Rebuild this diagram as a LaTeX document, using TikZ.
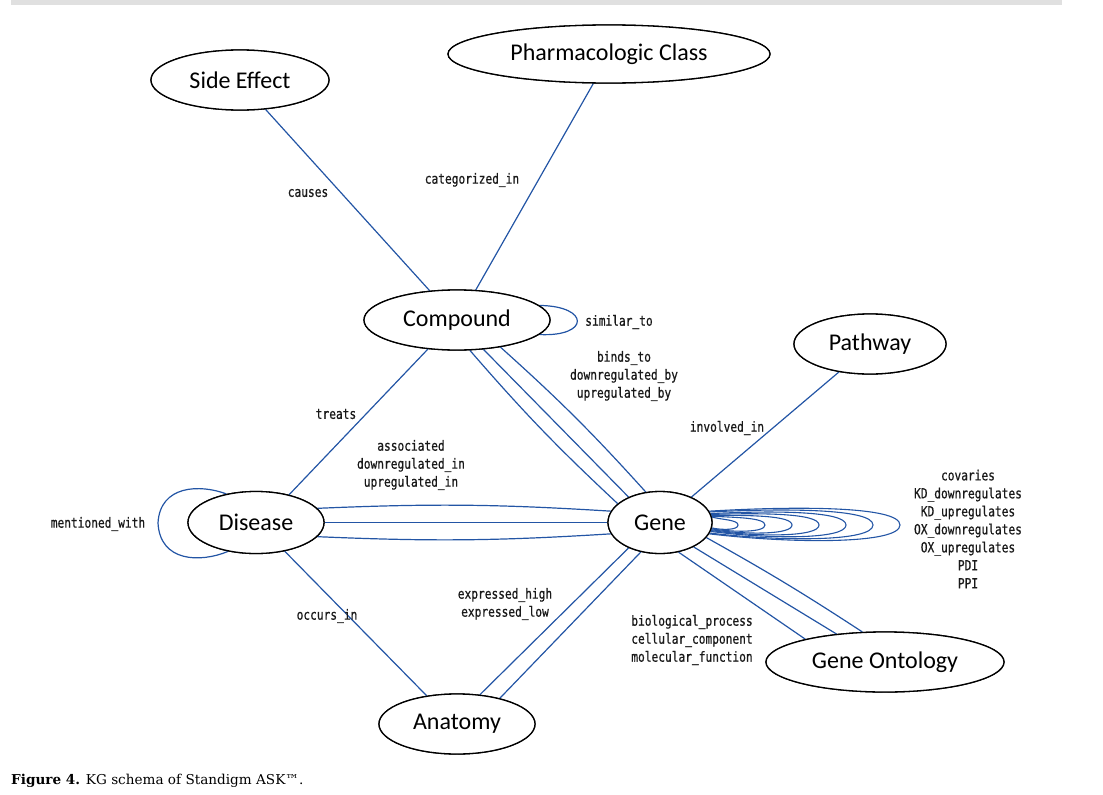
\documentclass[tikz,border=0pt]{standalone}
\usepackage{fontspec}
\setmainfont{Carlito}
\newfontfamily\lblfont[FakeStretch=0.8,FakeBold=0.6]{DejaVu Sans Mono}
\newfontfamily\capfont{DejaVu Serif}
\usetikzlibrary{shapes.geometric}
\definecolor{edgeblue}{RGB}{35,85,165}
\definecolor{barg}{RGB}{224,224,224}
\tikzset{
  ent/.style={draw=black, line width=1.3pt, ellipse, inner sep=0pt, fill=white, font=\fontsize{24}{28}\selectfont},
  rel/.style={draw=edgeblue, line width=1.2pt},
  lbl/.style={font=\lblfont\fontsize{14}{18}\selectfont, align=center, inner sep=0pt, text=black!90},
}
\begin{document}
\begin{tikzpicture}[x=1pt,y=-1pt]
\useasboundingbox (0,0) rectangle (1103,795);
\fill[barg] (11,0) rectangle (1062,5);

% nodes (placed first so that their anchors can be used)
\node[ent, minimum width=178pt, minimum height=60pt] (se) at (240,80) {Side Effect};
\node[ent, minimum width=322pt, minimum height=58pt] (pc) at (609,54) {Pharmacologic Class};
\node[ent, minimum width=186pt, minimum height=60pt] (comp) at (457,320) {Compound};
\node[ent, minimum width=152pt, minimum height=60pt] (pw) at (870,344) {Pathway};
\node[ent, minimum width=136pt, minimum height=62pt] (dis) at (256,522.5) {Disease};
\node[ent, minimum width=104pt, minimum height=62pt] (gene) at (660,522.5) {Gene};
\node[ent, minimum width=238pt, minimum height=60pt] (go) at (885,662) {Gene Ontology};
\node[ent, minimum width=156pt, minimum height=60pt] (anat) at (457,724) {Anatomy};

% edges
\draw[rel] (se.-49) -- (comp.133);
\draw[rel] (pc.-118) -- (comp.58);
\draw[rel] (comp.10) .. controls (590,306) and (590,337) .. (comp.-10);
\draw[rel] (comp.-67) to[bend right=3] (gene.156);
\draw[rel] (comp.-48) -- (gene.141);
\draw[rel] (comp.-32) to[bend left=3] (gene.115);
\draw[rel] (comp.-135) -- (dis.40);
\draw[rel] (dis.136) .. controls (200,484) and (160,485) .. (158,523) .. controls (160,562) and (200,563) .. (dis.226);
\draw[rel] (dis.13) to[bend left=3] (gene.167);
\draw[rel] (dis.0) -- (gene.180);
\draw[rel] (dis.-13) to[bend right=3] (gene.-167);
\draw[rel] (dis.-45) -- (anat.137);
\draw[rel] (gene.219) -- (anat.52);
\draw[rel] (gene.237) -- (anat.31);
\draw[rel] (gene.39) -- (pw.-138);
\draw[rel] (gene.-58) -- (go.164);
\draw[rel] (gene.-36) -- (go.150);
\draw[rel] (gene.-18) to[bend left=2] (go.127);
\foreach \k in {1,...,7}{
  \pgfmathsetmacro{\X}{738+27*(\k-1)}
  \pgfmathsetmacro{\h}{2.5+2*\k}
  \pgfmathsetmacro{\a}{5+1.2*\k}
  \pgfmathsetmacro{\cx}{710+0.45*(\X-710)}
  \pgfmathsetmacro{\top}{525-1.15*\h}
  \pgfmathsetmacro{\bot}{525+1.15*\h}
  \draw[draw=edgeblue, line width=1.1pt] (gene.\a) .. controls (\cx,\top) and (\X,\top) .. (\X,525) .. controls (\X,\bot) and (\cx,\bot) .. (gene.-\a);
}

% nodes redrawn on top of the connector ends
\node[ent, minimum width=178pt, minimum height=60pt] at (se) {Side Effect};
\node[ent, minimum width=322pt, minimum height=58pt] at (pc) {Pharmacologic Class};
\node[ent, minimum width=186pt, minimum height=60pt] at (comp) {Compound};
\node[ent, minimum width=152pt, minimum height=60pt] at (pw) {Pathway};
\node[ent, minimum width=136pt, minimum height=62pt] at (dis) {Disease};
\node[ent, minimum width=104pt, minimum height=62pt] at (gene) {Gene};
\node[ent, minimum width=238pt, minimum height=60pt] at (go) {Gene Ontology};
\node[ent, minimum width=156pt, minimum height=60pt] at (anat) {Anatomy};

% labels
\node[lbl] (l1) at (308,193) {causes};
\node[lbl] (l2) at (472,180) {categorized\_in};
\node[lbl] (l3) at (619,322) {similar\_to};
\node[lbl] (l4) at (624,376) {binds\_to\\downregulated\_by\\upregulated\_by};
\node[lbl] (l5) at (336,414) {treats};
\node[lbl] (l6) at (411,465) {associated\\downregulated\_in\\upregulated\_in};
\node[lbl] (l7) at (727,428) {involved\_in};
\node[lbl] (l8) at (98,524) {mentioned\_with};
\node[lbl] (l9) at (968,529) {covaries\\KD\_downregulates\\KD\_upregulates\\OX\_downregulates\\OX\_upregulates\\PDI\\PPI};
\node[lbl] (l10) at (505,604) {expressed\_high\\expressed\_low};
\node[lbl] (l11) at (327,616) {occurs\_in};
\node[lbl] (l12) at (692,640) {biological\_process\\cellular\_component\\molecular\_function};

% caption
\node[anchor=west, inner sep=0pt, font=\capfont\fontsize{13.6}{15}\selectfont] (cap) at (11,781) {\textbf{Figure 4.} KG schema of Standigm ASK™.};
\end{tikzpicture}
\end{document}
